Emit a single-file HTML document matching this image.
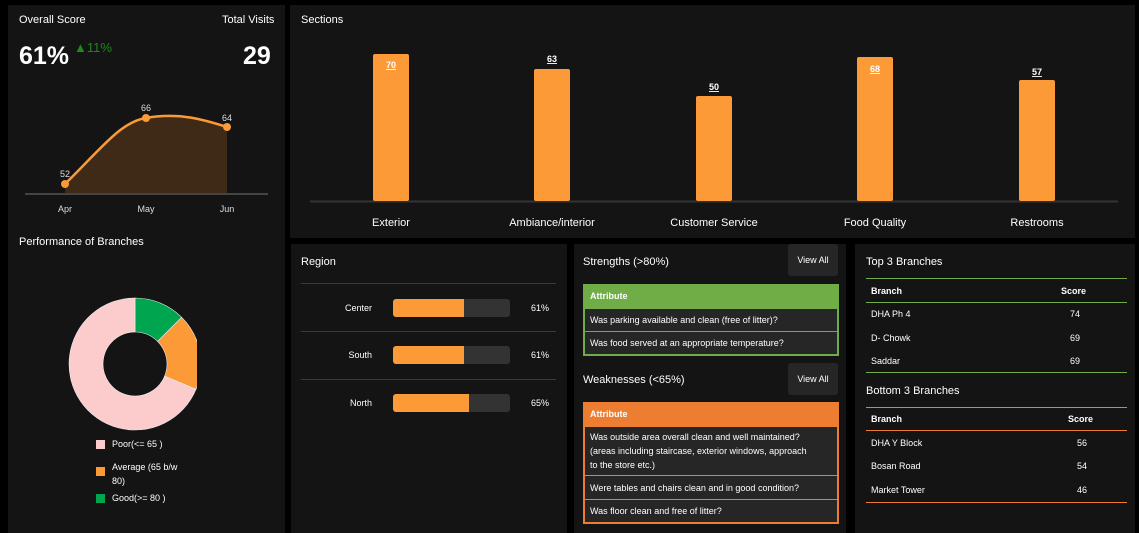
<!DOCTYPE html>
<html><head><meta charset="utf-8"><style>
*{margin:0;padding:0;box-sizing:border-box}
body{width:1139px;height:533px;background:#000;position:relative;overflow:hidden;font-family:"Liberation Sans",sans-serif;color:#fff}
.p{position:absolute;background:#141414}
.t{position:absolute;font-size:11px;white-space:nowrap}
.s{position:absolute;font-size:9px;white-space:nowrap}
.hl{position:absolute;height:1px}
.btn{position:absolute;background:#262626;border-radius:3px;font-size:9px;text-align:center;line-height:32px;width:50px;height:32px}
.row{position:absolute;left:584px;width:254px;background:#262626;font-size:9px;padding-left:5px;display:flex;align-items:center}
</style></head><body>
<div class="p" style="left:8px;top:5px;width:277px;height:528px"></div>
<div class="p" style="left:290px;top:5px;width:845px;height:233px"></div>
<div class="p" style="left:291px;top:244px;width:276px;height:289px"></div>
<div class="p" style="left:574px;top:244px;width:272px;height:289px"></div>
<div class="p" style="left:855px;top:244px;width:280px;height:289px"></div>

<div class="t" style="left:19px;top:14px">Overall Score</div>
<div class="t" style="left:222px;top:14px">Total Visits</div>
<div class="t" style="left:19px;top:42px;font-size:25px;font-weight:bold">61%</div>
<div class="t" style="left:74px;top:40px;font-size:13px;color:#1a8a1a">▲11%</div>
<div class="t" style="left:243px;top:42px;font-size:25px;font-weight:bold">29</div>
<svg style="position:absolute;left:0;top:0" width="290" height="240">
<path d="M65 184 C100 150,120 122,146 118 C180 112,205 120,227 127 L227 194 L65 194Z" fill="#3f2a17"/>
<line x1="25" y1="194" x2="268" y2="194" stroke="#444" stroke-width="2"/>
<path d="M65 184 C100 150,120 122,146 118 C180 112,205 120,227 127" fill="none" stroke="#fb9a36" stroke-width="2.5"/>
<circle cx="65" cy="184" r="4" fill="#fb9a36"/><circle cx="146" cy="118" r="4" fill="#fb9a36"/><circle cx="227" cy="127" r="4" fill="#fb9a36"/>
<g font-size="9" fill="#ddd" text-anchor="middle" font-family="Liberation Sans"><text x="65" y="177">52</text><text x="146" y="111">66</text><text x="227" y="121">64</text>
<text x="65" y="212">Apr</text><text x="146" y="212">May</text><text x="227" y="212">Jun</text></g>
</svg>
<div class="t" style="left:19px;top:236px">Performance of Branches</div>
<svg style="position:absolute;left:0;top:290px" width="290" height="150">
<defs><clipPath id="c"><rect x="0" y="0" width="197" height="150"/></clipPath></defs>
<g clip-path="url(#c)" stroke="#eee" stroke-width="0.6">
<path d="M135 8 A66 66 0 0 1 181.7 27.3 L157.6 51.4 A32 32 0 0 0 135 42Z" fill="#00a64f"/>
<path d="M181.7 27.3 A66 66 0 0 1 196 99.3 L164.6 86.2 A32 32 0 0 0 157.6 51.4Z" fill="#fb9a36"/>
<path d="M196 99.3 A66 66 0 1 1 135 8 L135 42 A32 32 0 1 0 164.6 86.2Z" fill="#fccccc"/>
</g></svg>
<div style="position:absolute;left:96px;top:440px;width:9px;height:9px;background:#fccccc"></div>
<div class="s" style="left:112px;top:439px">Poor(&lt;= 65 )</div>
<div style="position:absolute;left:96px;top:467px;width:9px;height:9px;background:#fb9a36"></div>
<div class="s" style="left:112px;top:460px;line-height:14px">Average (65 b/w<br>80)</div>
<div style="position:absolute;left:96px;top:494px;width:9px;height:9px;background:#00a64f"></div>
<div class="s" style="left:112px;top:493px">Good(&gt;= 80 )</div>

<div class="t" style="left:301px;top:14px">Sections</div>
<svg style="position:absolute;left:0;top:0" width="1139" height="240">
<line x1="310" y1="201.5" x2="1118" y2="201.5" stroke="#333" stroke-width="2"/>
<g fill="#fb9a36"><rect x="373" y="54" width="36" height="147" rx="2"/><rect x="534" y="69" width="36" height="132" rx="2"/><rect x="696" y="96" width="36" height="105" rx="2"/><rect x="857" y="57" width="36" height="144" rx="2"/><rect x="1019" y="80" width="36" height="121" rx="2"/></g>
<g font-size="9" font-weight="bold" fill="#fff" text-anchor="middle" font-family="Liberation Sans" text-decoration="underline">
<text x="391" y="68">70</text><text x="552" y="62">63</text><text x="714" y="90">50</text><text x="875" y="72">68</text><text x="1037" y="75">57</text></g>
<g font-size="11" fill="#fff" text-anchor="middle" font-family="Liberation Sans">
<text x="391" y="226">Exterior</text><text x="552" y="226">Ambiance/interior</text><text x="714" y="226">Customer Service</text><text x="875" y="226">Food Quality</text><text x="1037" y="226">Restrooms</text></g>
</svg>

<div class="t" style="left:301px;top:256px">Region</div>
<div class="hl" style="left:301px;top:283px;width:255px;background:#3a3a3a"></div>
<div class="hl" style="left:301px;top:331px;width:255px;background:#3a3a3a"></div>
<div class="hl" style="left:301px;top:379px;width:255px;background:#3a3a3a"></div>
<div class="s" style="left:330px;top:303px;width:42px;text-align:right">Center</div>
<div class="s" style="left:330px;top:350px;width:42px;text-align:right">South</div>
<div class="s" style="left:330px;top:398px;width:42px;text-align:right">North</div>
<div style="position:absolute;left:393px;top:299px;width:117px;height:18px;background:#333;border-radius:3px"><div style="width:71px;height:18px;background:#fb9a36;border-radius:3px 0 0 3px"></div></div>
<div style="position:absolute;left:393px;top:346px;width:117px;height:18px;background:#333;border-radius:3px"><div style="width:71px;height:18px;background:#fb9a36;border-radius:3px 0 0 3px"></div></div>
<div style="position:absolute;left:393px;top:394px;width:117px;height:18px;background:#333;border-radius:3px"><div style="width:76px;height:18px;background:#fb9a36;border-radius:3px 0 0 3px"></div></div>
<div class="s" style="left:531px;top:303px">61%</div>
<div class="s" style="left:531px;top:350px">61%</div>
<div class="s" style="left:531px;top:398px">65%</div>

<div class="t" style="left:583px;top:256px">Strengths (&gt;80%)</div>
<div class="btn" style="left:788px;top:244px">View All</div>
<div style="position:absolute;left:583px;top:284px;width:256px;height:72px;background:#70ad47"></div>
<div class="row" style="left:585px;top:284px;height:24px;background:#70ad47;font-weight:bold">Attribute</div>
<div class="row" style="left:585px;top:309px;width:252px;height:22px">Was parking available and clean (free of litter)?</div>
<div class="row" style="left:585px;top:332px;width:252px;height:22px">Was food served at an appropriate temperature?</div>
<div class="t" style="left:583px;top:374px">Weaknesses (&lt;65%)</div>
<div class="btn" style="left:788px;top:363px">View All</div>
<div style="position:absolute;left:583px;top:402px;width:256px;height:122px;background:#ed7d31"></div>
<div class="row" style="left:585px;top:402px;width:252px;height:24px;background:#ed7d31;font-weight:bold">Attribute</div>
<div class="row" style="left:585px;top:427px;width:252px;height:48px;line-height:14px">Was outside area overall clean and well maintained?<br>(areas including staircase, exterior windows, approach<br>to the store etc.)</div>
<div class="row" style="left:585px;top:476px;width:252px;height:23px">Were tables and chairs clean and in good condition?</div>
<div class="row" style="left:585px;top:500px;width:252px;height:22px">Was floor clean and free of litter?</div>

<div class="t" style="left:866px;top:256px">Top 3 Branches</div>
<div class="hl" style="left:866px;top:278px;width:261px;background:#70ad47"></div>
<div class="s" style="left:871px;top:286px;font-weight:bold">Branch</div>
<div class="s" style="left:1061px;top:286px;font-weight:bold">Score</div>
<div class="hl" style="left:866px;top:302px;width:261px;background:#70ad47"></div>
<div class="s" style="left:871px;top:309px">DHA Ph 4</div><div class="s" style="left:1070px;top:309px">74</div>
<div class="s" style="left:871px;top:333px">D- Chowk</div><div class="s" style="left:1070px;top:333px">69</div>
<div class="s" style="left:871px;top:356px">Saddar</div><div class="s" style="left:1070px;top:356px">69</div>
<div class="hl" style="left:866px;top:372px;width:261px;background:#70ad47"></div>
<div class="t" style="left:866px;top:385px">Bottom 3 Branches</div>
<div class="hl" style="left:866px;top:407px;width:261px;background:#ed7d31"></div>
<div class="s" style="left:871px;top:414px;font-weight:bold">Branch</div>
<div class="s" style="left:1068px;top:414px;font-weight:bold">Score</div>
<div class="hl" style="left:866px;top:430px;width:261px;background:#ed7d31"></div>
<div class="s" style="left:871px;top:438px">DHA Y Block</div><div class="s" style="left:1077px;top:438px">56</div>
<div class="s" style="left:871px;top:461px">Bosan Road</div><div class="s" style="left:1077px;top:461px">54</div>
<div class="s" style="left:871px;top:485px">Market Tower</div><div class="s" style="left:1077px;top:485px">46</div>
<div class="hl" style="left:866px;top:502px;width:261px;background:#ed7d31"></div>
</body></html>
